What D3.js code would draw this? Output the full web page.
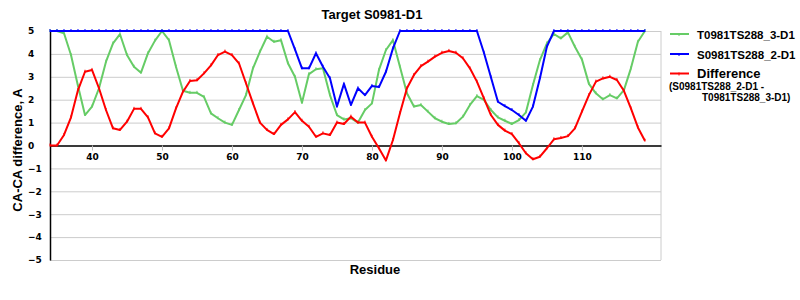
<!DOCTYPE html>
<html>
<head>
<meta charset="utf-8">
<script src="https://cdn.jsdelivr.net/npm/d3@7"></script>
<style>
	body { margin: 0; background: #fff; }
	svg { display: block; }
</style>
</head>
<body>
<div id="chart" style="width:800px;height:300px"></div>
<script>
const residues = [34, 35, 36, 37, 38, 39, 40, 41, 42, 43, 44, 45, 46, 47, 48, 49, 50, 51, 52, 53,
	54, 55, 56, 57, 58, 59, 60, 61, 62, 63, 64, 65, 66, 67, 68, 69, 70, 71, 72, 73,
	74, 75, 76, 77, 78, 79, 80, 81, 82, 83, 84, 85, 86, 87, 88, 89, 90, 91, 92, 93,
	94, 95, 96, 97, 98, 99, 100, 101, 102, 103, 104, 105, 106, 107, 108, 109, 110, 111, 112, 113,
	114, 115, 116, 117, 118, 119];

// T0981TS288_3-D1
const modelT = [5, 5, 4.9, 3.95, 2.6, 1.33, 1.7, 2.5, 3.66, 4.46, 4.86, 3.95, 3.44, 3.18, 4.03, 4.58, 5, 4.6, 3.44, 2.39,
	2.3, 2.3, 2.12, 1.4, 1.19, 1.0, 0.9, 1.55, 2.2, 3.37, 4.1, 4.75, 4.53, 4.6, 3.59, 3.0, 1.87, 3.12, 3.33, 3.37,
	2.2, 1.33, 1.14, 1.19, 1.0, 1.55, 1.84, 3.3, 4.17, 4.6, 3.44, 2.28, 1.7, 1.77, 1.48, 1.19, 1.04, 0.94, 0.97, 1.26,
	1.77, 2.16, 1.99, 1.55, 1.23, 1.08, 0.94, 1.11, 1.45, 2.64, 3.73, 4.46, 4.87, 4.68, 4.94, 4.31, 3.76, 2.69, 2.28, 2.02,
	2.2, 2.06, 2.42, 3.37, 4.53, 5];

// S0981TS288_2-D1
const modelS = [5, 5, 5, 5, 5, 5, 5, 5, 5, 5, 5, 5, 5, 5, 5, 5, 5, 5, 5, 5,
	5, 5, 5, 5, 5, 5, 5, 5, 5, 5, 5, 5, 5, 5, 5, 4.2, 3.37, 3.37, 4.03, 3.44,
	2.94, 1.7, 2.69, 1.77, 2.5, 2.2, 2.6, 2.55, 3.22, 4.24, 5, 5, 5, 5, 5, 5, 5, 5, 5, 5,
	5, 5, 4.05, 2.98, 1.91, 1.72, 1.55, 1.33, 1.08, 1.7, 2.94, 4.32, 5, 5, 5, 5, 5, 5, 5, 5,
	5, 5, 5, 5, 5, 5];

// Difference (S0981TS288_2-D1 - T0981TS288_3-D1)
const difference = [0, 0, 0.46, 1.23, 2.42, 3.22, 3.3, 2.5, 1.55, 0.75, 0.68, 1.04, 1.6, 1.6, 1.23, 0.53, 0.38, 0.75, 1.62, 2.35,
	2.82, 2.85, 3.15, 3.5, 3.95, 4.1, 3.95, 3.59, 2.72, 1.84, 1.0, 0.68, 0.5, 0.9, 1.14, 1.46, 1.08, 0.82, 0.38, 0.53,
	0.46, 1.0, 0.94, 1.26, 1.0, 1.0, 0.38, -0.12, -0.65, 0.24, 1.41, 2.5, 3.08, 3.47, 3.66, 3.88, 4.05, 4.13, 4.05, 3.81,
	3.37, 2.79, 2.06, 1.33, 0.9, 0.65, 0.5, 0.1, -0.34, -0.6, -0.49, -0.12, 0.27, 0.33, 0.41, 0.75, 1.48, 2.2, 2.79, 2.93,
	3.0, 2.86, 2.39, 1.62, 0.79, 0.21];

const xTicks = [40, 50, 60, 70, 80, 90, 100, 110];
const yTicks = [-5, -4, -3, -2, -1, 0, 1, 2, 3, 4, 5];

const series = [
	{name: "T0981TS288_3-D1", values: modelT, color: "#66cc66"},
	{name: "S0981TS288_2-D1", values: modelS, color: "#0000ff"},
	{name: "Difference", values: difference, color: "#ff0000"}
];

const width = 800, height = 300;
const margin = {top: 31, right: 139, bottom: 40, left: 50};
const boldFont = "bold 13px 'Liberation Sans', Arial, sans-serif";
const tickFont = "bold 9px 'DejaVu Sans', Verdana, sans-serif";

const svg = d3.select("#chart").append("svg")
	.attr("width", width)
	.attr("height", height);

const x = d3.scaleLinear()
	.domain([34, 121.3])
	.range([margin.left, width - margin.right]);

const y = d3.scaleLinear()
	.domain([-5, 5])
	.range([height - margin.bottom, margin.top]);

// grid
svg.append("g")
	.attr("transform", `translate(${margin.left},0)`)
	.call(d3.axisLeft(y).tickValues(yTicks).tickSize(-(x.range()[1] - margin.left)).tickFormat(""))
	.call(g => g.select(".domain").remove())
	.call(g => g.selectAll("line").attr("stroke", "#cccccc"));

svg.append("line")
	.attr("x1", x.range()[1]).attr("x2", x.range()[1])
	.attr("y1", y(5)).attr("y2", y(-5))
	.attr("stroke", "#cccccc");

// x axis on zero line
svg.append("g")
	.attr("class", "xaxis")
	.attr("transform", `translate(0,${y(0)})`)
	.call(d3.axisBottom(x).tickValues(xTicks).tickSize(5).tickSizeOuter(0).tickPadding(3))
	.call(g => g.select(".domain").attr("stroke", "#000").attr("stroke-width", 1.5))
	.call(g => g.selectAll(".tick line").attr("stroke", "#bbbbbb"))
	.call(g => g.selectAll("text").style("font", tickFont).attr("fill", "#000"));

// y axis, labels left aligned
svg.append("g")
	.attr("class", "yaxis")
	.attr("transform", `translate(${margin.left},0)`)
	.call(d3.axisLeft(y).tickValues(yTicks).tickSize(0).tickFormat(d3.format("d")))
	.call(g => g.select(".domain").attr("stroke", "#000").attr("stroke-width", 1.5))
	.call(g => g.selectAll("text")
		.attr("x", -22)
		.attr("text-anchor", "start")
		.style("font", tickFont)
		.attr("fill", "#000"));

// lines
const line = d3.line()
	.x((d, i) => x(residues[i]))
	.y(d => y(d));

series.forEach(s => {
	svg.append("path")
		.datum(s.values)
		.attr("fill", "none")
		.attr("stroke", s.color)
		.attr("stroke-width", 2)
		.attr("stroke-linejoin", "round")
		.attr("d", line);

	svg.append("g").selectAll("line")
		.data(s.values)
		.enter()
		.append("line")
		.attr("x1", (d, i) => x(residues[i]))
		.attr("x2", (d, i) => x(residues[i]))
		.attr("y1", d => y(d) - 2)
		.attr("y2", d => y(d) + 1)
		.attr("stroke", s.color)
		.attr("stroke-width", 1);
});

// titles
svg.append("text")
	.attr("x", 372)
	.attr("y", 19)
	.attr("text-anchor", "middle")
	.style("font", boldFont)
	.text("Target S0981-D1");

svg.append("text")
	.attr("x", 375)
	.attr("y", 274)
	.attr("text-anchor", "middle")
	.style("font", boldFont)
	.text("Residue");

svg.append("text")
	.attr("transform", "translate(22,150) rotate(-90)")
	.attr("text-anchor", "middle")
	.style("font", boldFont)
	.text("CA-CA difference, A");

// legend
const legendY = [34, 54, 73.5];
const legend = svg.append("g");
series.forEach((s, i) => {
	legend.append("line")
		.attr("x1", 670).attr("x2", 689)
		.attr("y1", legendY[i]).attr("y2", legendY[i])
		.attr("stroke", s.color)
		.attr("stroke-width", 2);
	legend.append("line")
		.attr("x1", 679).attr("x2", 679)
		.attr("y1", legendY[i] - 1).attr("y2", legendY[i] + 2)
		.attr("stroke", s.color);
	legend.append("text")
		.attr("x", 697)
		.attr("y", legendY[i] + 4.5)
		.style("font", i === 2 ? boldFont : "bold 11.5px 'Liberation Sans', Arial, sans-serif")
		.text(s.name);
});

legend.append("text")
	.attr("x", 669)
	.attr("y", 90)
	.style("font", "bold 10px 'Liberation Sans', Arial, sans-serif")
	.text("(S0981TS288_2-D1 -");

legend.append("text")
	.attr("x", 702)
	.attr("y", 101)
	.style("font", "bold 10px 'Liberation Sans', Arial, sans-serif")
	.text("T0981TS288_3-D1)");
</script>
</body>
</html>
